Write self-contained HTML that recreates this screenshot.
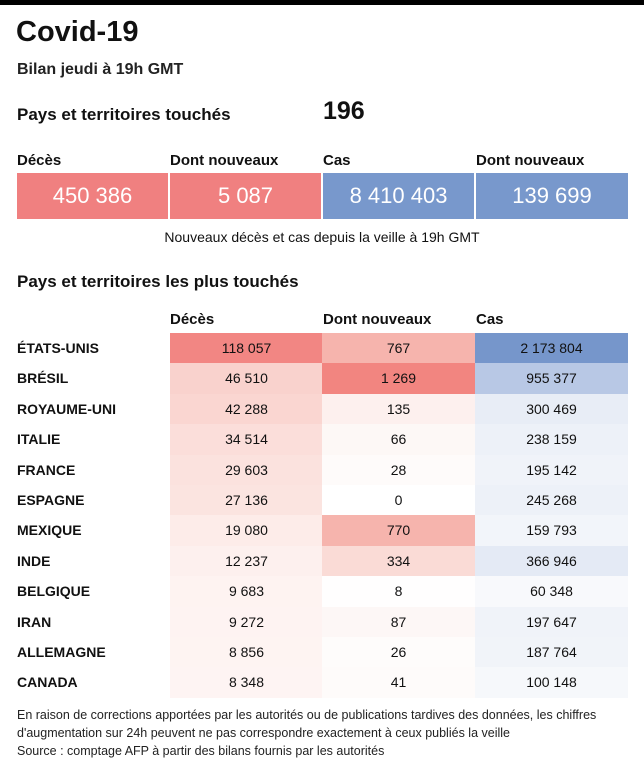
<!DOCTYPE html>
<html><head><meta charset="utf-8"><style>
*{margin:0;padding:0;box-sizing:border-box}
body{width:644px;height:768px;background:#fff;font-family:"Liberation Sans",sans-serif;color:#111;position:relative;overflow:hidden}
.a{position:absolute;white-space:nowrap}
.bar{position:absolute;left:0;top:0;width:644px;height:5px;background:#000}
.box{position:absolute;top:173px;height:46px;color:#fff;font-size:22px;text-align:center;line-height:46px}
.h{font-size:15px;font-weight:bold}
.row{position:absolute;left:0;width:644px;height:30.4px;line-height:30px;font-size:14px}
.row .n{position:absolute;left:17px;font-weight:bold;font-size:14px}
.row .c{position:absolute;height:30.4px;width:153px;text-align:center}
</style></head><body>
<div class="bar"></div>
<div class="a" style="left:16px;top:16px;font-size:29px;font-weight:bold">Covid-19</div>
<div class="a" style="left:17px;top:61px;font-size:16px;font-weight:bold;color:#222">Bilan jeudi à 19h GMT</div>
<div class="a" style="left:17px;top:105px;font-size:17px;font-weight:bold">Pays et territoires touchés</div>
<div class="a" style="left:323px;top:97px;font-size:25px;font-weight:bold">196</div>
<div class="a h" style="left:17px;top:152px">Décès</div>
<div class="a h" style="left:170px;top:152px">Dont nouveaux</div>
<div class="a h" style="left:323px;top:152px">Cas</div>
<div class="a h" style="left:476px;top:152px">Dont nouveaux</div>
<div class="box" style="left:17px;width:151px;background:#f08080">450 386</div>
<div class="box" style="left:170px;width:151px;background:#f08080">5 087</div>
<div class="box" style="left:323px;width:151px;background:#7898cc">8 410 403</div>
<div class="box" style="left:476px;width:152px;background:#7898cc">139 699</div>
<div class="a" style="left:0;width:644px;text-align:center;top:229px;font-size:14px">Nouveaux décès et cas depuis la veille à 19h GMT</div>
<div class="a" style="left:17px;top:272px;font-size:17px;font-weight:bold">Pays et territoires les plus touchés</div>
<div class="a h" style="left:170px;top:311px">Décès</div>
<div class="a h" style="left:323px;top:311px">Dont nouveaux</div>
<div class="a h" style="left:476px;top:311px">Cas</div>

<div class="row" style="top:333px"><span class="n">ÉTATS-UNIS</span><div class="c" style="left:170px;background:#f28683">118 057</div><div class="c" style="left:322px;background:#f6b4ad">767</div><div class="c" style="left:475px;background:#7696cb">2 173 804</div></div>
<div class="row" style="top:363.4px"><span class="n">BRÉSIL</span><div class="c" style="left:170px;background:#f9d2cd">46 510</div><div class="c" style="left:322px;background:#f28580">1 269</div><div class="c" style="left:475px;background:#b8c8e5">955 377</div></div>
<div class="row" style="top:393.8px"><span class="n">ROYAUME-UNI</span><div class="c" style="left:170px;background:#fad6d1">42 288</div><div class="c" style="left:322px;background:#fdf0ee">135</div><div class="c" style="left:475px;background:#e8edf6">300 469</div></div>
<div class="row" style="top:424.2px"><span class="n">ITALIE</span><div class="c" style="left:170px;background:#fbdeda">34 514</div><div class="c" style="left:322px;background:#fdf8f6">66</div><div class="c" style="left:475px;background:#edf1f8">238 159</div></div>
<div class="row" style="top:454.6px"><span class="n">FRANCE</span><div class="c" style="left:170px;background:#fbe2de">29 603</div><div class="c" style="left:322px;background:#fefbfa">28</div><div class="c" style="left:475px;background:#f0f3f9">195 142</div></div>
<div class="row" style="top:485px"><span class="n">ESPAGNE</span><div class="c" style="left:170px;background:#fbe4e0">27 136</div><div class="c" style="left:322px;background:#fff">0</div><div class="c" style="left:475px;background:#edf1f8">245 268</div></div>
<div class="row" style="top:515.4px"><span class="n">MEXIQUE</span><div class="c" style="left:170px;background:#fdece9">19 080</div><div class="c" style="left:322px;background:#f6b4ad">770</div><div class="c" style="left:475px;background:#f2f5fa">159 793</div></div>
<div class="row" style="top:545.8px"><span class="n">INDE</span><div class="c" style="left:170px;background:#fdf0ee">12 237</div><div class="c" style="left:322px;background:#fadbd6">334</div><div class="c" style="left:475px;background:#e4eaf5">366 946</div></div>
<div class="row" style="top:576.2px"><span class="n">BELGIQUE</span><div class="c" style="left:170px;background:#fef3f1">9 683</div><div class="c" style="left:322px;background:#fffefe">8</div><div class="c" style="left:475px;background:#f8f9fc">60 348</div></div>
<div class="row" style="top:606.6px"><span class="n">IRAN</span><div class="c" style="left:170px;background:#fef3f2">9 272</div><div class="c" style="left:322px;background:#fdf7f6">87</div><div class="c" style="left:475px;background:#f0f3f9">197 647</div></div>
<div class="row" style="top:637px"><span class="n">ALLEMAGNE</span><div class="c" style="left:170px;background:#fef4f2">8 856</div><div class="c" style="left:322px;background:#fefcfb">26</div><div class="c" style="left:475px;background:#f1f4f9">187 764</div></div>
<div class="row" style="top:667.4px"><span class="n">CANADA</span><div class="c" style="left:170px;background:#fef4f3">8 348</div><div class="c" style="left:322px;background:#fefbfa">41</div><div class="c" style="left:475px;background:#f6f8fb">100 148</div></div>

<div class="a" style="left:17px;top:706px;font-size:12.5px;line-height:18px;color:#222">En raison de corrections apportées par les autorités ou de publications tardives des données, les chiffres<br>d'augmentation sur 24h peuvent ne pas correspondre exactement à ceux publiés la veille<br>Source : comptage AFP à partir des bilans fournis par les autorités</div>
</body></html>
